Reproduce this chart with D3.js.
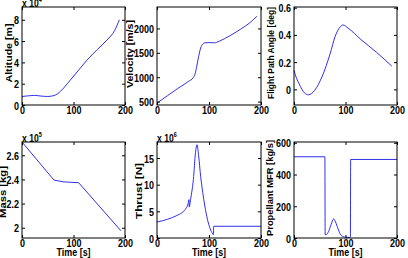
<!DOCTYPE html>
<html>
<head>
<meta charset="utf-8">
<script src="https://cdn.jsdelivr.net/npm/d3@7"></script>
<style>
  body { margin: 0; background: #fff; }
  text { font-family: "Liberation Sans", Arial, sans-serif; font-weight: bold; fill: #000; }
</style>
</head>
<body>
<svg id="fig" width="408" height="258"></svg>
<script>
// time axis shared by all panels
const timeTicks = [0, 100, 200];

// altitude (x 10^4 m)
const altT = [0, 10, 24, 35, 49, 60, 69, 75, 81, 88, 94, 107, 126, 146, 165, 180, 189];
const altV = [0.8, 0.85, 0.9, 0.85, 0.8, 0.86, 1.05, 1.3, 1.6, 2.0, 2.35, 3.1, 4.2, 5.2, 6.1, 7.0, 8.0];
const altTicks = [0, 2, 4, 6, 8];

// velocity (m/s)
const velT = [0, 20, 40, 60, 70, 73, 76, 80, 84, 88, 92, 100, 110, 120, 140, 160, 180, 192];
const velV = [470, 620, 770, 910, 995, 1060, 1200, 1420, 1600, 1680, 1705, 1710, 1705, 1740, 1850, 1980, 2130, 2250];
const velTicks = [500, 1000, 1500, 2000];

// flight path angle (deg)
const fpaT = [0, 5, 10, 20, 28, 40, 55, 70, 80, 90, 95, 105, 130, 160, 190];
const fpaV = [0.14, 0.08, 0.04, -0.025, -0.04, -0.008, 0.098, 0.26, 0.39, 0.46, 0.473, 0.45, 0.366, 0.273, 0.17];
const fpaTicks = [0, 0.2, 0.4, 0.6];

// mass (x 10^5 kg)
const massT = [0, 62, 80, 110, 192];
const massV = [2.71, 2.395, 2.38, 2.373, 1.975];
const massTicks = [2, 2.2, 2.4, 2.6];

// thrust (x 10^6 N)
const thrT = [0, 20, 40, 50, 56, 60, 61.5, 62, 65, 70, 74, 77, 80, 84, 88, 92, 97, 102, 107, 108.5, 109, 200];
const thrV = [3.0, 3.5, 4.3, 4.9, 5.6, 6.5, 7.2, 5.8, 7.5, 11, 16, 17.5, 15.5, 11.5, 8.5, 6.0, 3.5, 1.8, 0.8, 0.6, 2.2, 2.2];
const thrTicks = [0, 5, 10, 15];

// propellant mass flow rate (kg/s)
const mfrT = [0, 60, 60.5, 63, 67, 72, 77, 82, 87, 92, 100, 108, 109.5, 110, 200];
const mfrV = [512, 512, 20, 22, 40, 85, 120, 90, 45, 15, 5, 3, 5, 495, 495];
const mfrTicks = [0, 200, 400, 600];

const SX = 0.78;   // figure text is squeezed horizontally
const svg = d3.select("#fig");
const cols = [[22, 125], [157, 261], [294, 397]];
const rows = [[7, 105], [142, 238]];
const fmt = d3.format("~g");

const panels = [
  {c: 0, r: 0, t: altT, v: altV, dom: [0, 9.2], ticks: altTicks, label: "Altitude [m]", lx: 12, ly: 53, len: 59, exp: "4", curve: d3.curveMonotoneX},
  {c: 1, r: 0, t: velT, v: velV, dom: [430, 2440], ticks: velTicks, label: "Velocity [m/s]", lx: 132.5, ly: 54, len: 68, curve: d3.curveMonotoneX},
  {c: 2, r: 0, t: fpaT, v: fpaV, dom: [-0.115, 0.605], ticks: fpaTicks, label: "Flight Path Angle [deg]", lx: 273.5, ly: 53, len: 92, curve: d3.curveMonotoneX},
  {c: 0, r: 1, t: massT, v: massV, dom: [1.915, 2.71], ticks: massTicks, label: "Mass [kg]", lx: 5.5, ly: 192, len: 52, exp: "5", curve: d3.curveLinear, time: true},
  {c: 1, r: 1, t: thrT, v: thrV, dom: [0, 18], ticks: thrTicks, label: "Thrust [N]", lx: 142, ly: 191, len: 56, exp: "6", curve: d3.curveMonotoneX, time: true},
  {c: 2, r: 1, t: mfrT, v: mfrV, dom: [0, 605], ticks: mfrTicks, label: "Propellant MFR [kg/s]", lx: 272.5, ly: 188, len: 96, curve: d3.curveMonotoneX, time: true}
];

panels.forEach(p => {
  const [x0, x1] = cols[p.c];
  const [y0, y1] = rows[p.r];
  const x = d3.scaleLinear().domain([0, 200]).range([x0, x1]);
  const y = d3.scaleLinear().domain(p.dom).range([y1, y0]);
  const g = svg.append("g");

  g.append("path")
    .datum(d3.zip(p.t, p.v))
    .attr("fill", "none")
    .attr("stroke", "#1a1ae6")
    .attr("stroke-width", 0.9)
    .attr("d", d3.line().x(d => x(d[0])).y(d => y(d[1])).curve(p.curve));

  const bx = g.append("g").attr("transform", `translate(0,${y1})`)
    .call(d3.axisBottom(x).tickValues(timeTicks).tickSizeInner(-3).tickSizeOuter(0).tickFormat(fmt));
  bx.selectAll(".tick text")
    .attr("y", null).attr("dy", null)
    .attr("font-size", 11.5)
    .attr("transform", `translate(0,8.5) scale(${SX},1)`);

  const ly = g.append("g").attr("transform", `translate(${x0},0)`)
    .call(d3.axisLeft(y).tickValues(p.ticks).tickSizeInner(-3).tickSizeOuter(0).tickFormat(fmt));
  ly.selectAll(".tick text")
    .attr("x", null).attr("dy", null)
    .attr("font-size", 11.5)
    .attr("transform", `translate(-3,4) scale(${SX},1)`);

  g.append("g").attr("transform", `translate(0,${y0})`)
    .call(d3.axisTop(x).tickValues(timeTicks).tickSizeInner(-3).tickSizeOuter(0).tickFormat(""));
  g.append("g").attr("transform", `translate(${x1},0)`)
    .call(d3.axisRight(y).tickValues(p.ticks).tickSizeInner(-3).tickSizeOuter(0).tickFormat(""));

  g.selectAll(".domain").remove();
  g.selectAll(".tick line").attr("stroke", "#000");
  g.append("rect")
    .attr("x", x0).attr("y", y0).attr("width", x1 - x0).attr("height", y1 - y0)
    .attr("fill", "none").attr("stroke", "#000").attr("stroke-width", 1);

  g.append("text")
    .attr("text-anchor", "middle")
    .attr("font-size", 11.5)
    .attr("textLength", p.len)
    .attr("lengthAdjust", "spacingAndGlyphs")
    .attr("transform", `translate(${p.lx},${p.ly}) scale(${SX},1) rotate(-90)`)
    .text(p.label);

  if (p.time) {
    g.append("text")
      .attr("text-anchor", "middle")
      .attr("font-size", 11.5)
      .attr("transform", `translate(${(x0 + x1) / 2},${y1 + 17.5}) scale(${SX},1)`)
      .text("Time [s]");
  }

  if (p.exp) {
    const e = g.append("text")
      .attr("font-size", 11)
      .attr("transform", `translate(${x0},${y0 - 0.5}) scale(${SX},1)`);
    e.append("tspan").text("x 10");
    e.append("tspan").attr("font-size", 7).attr("dy", -5).text(p.exp);
  }
});
</script>
</body>
</html>
